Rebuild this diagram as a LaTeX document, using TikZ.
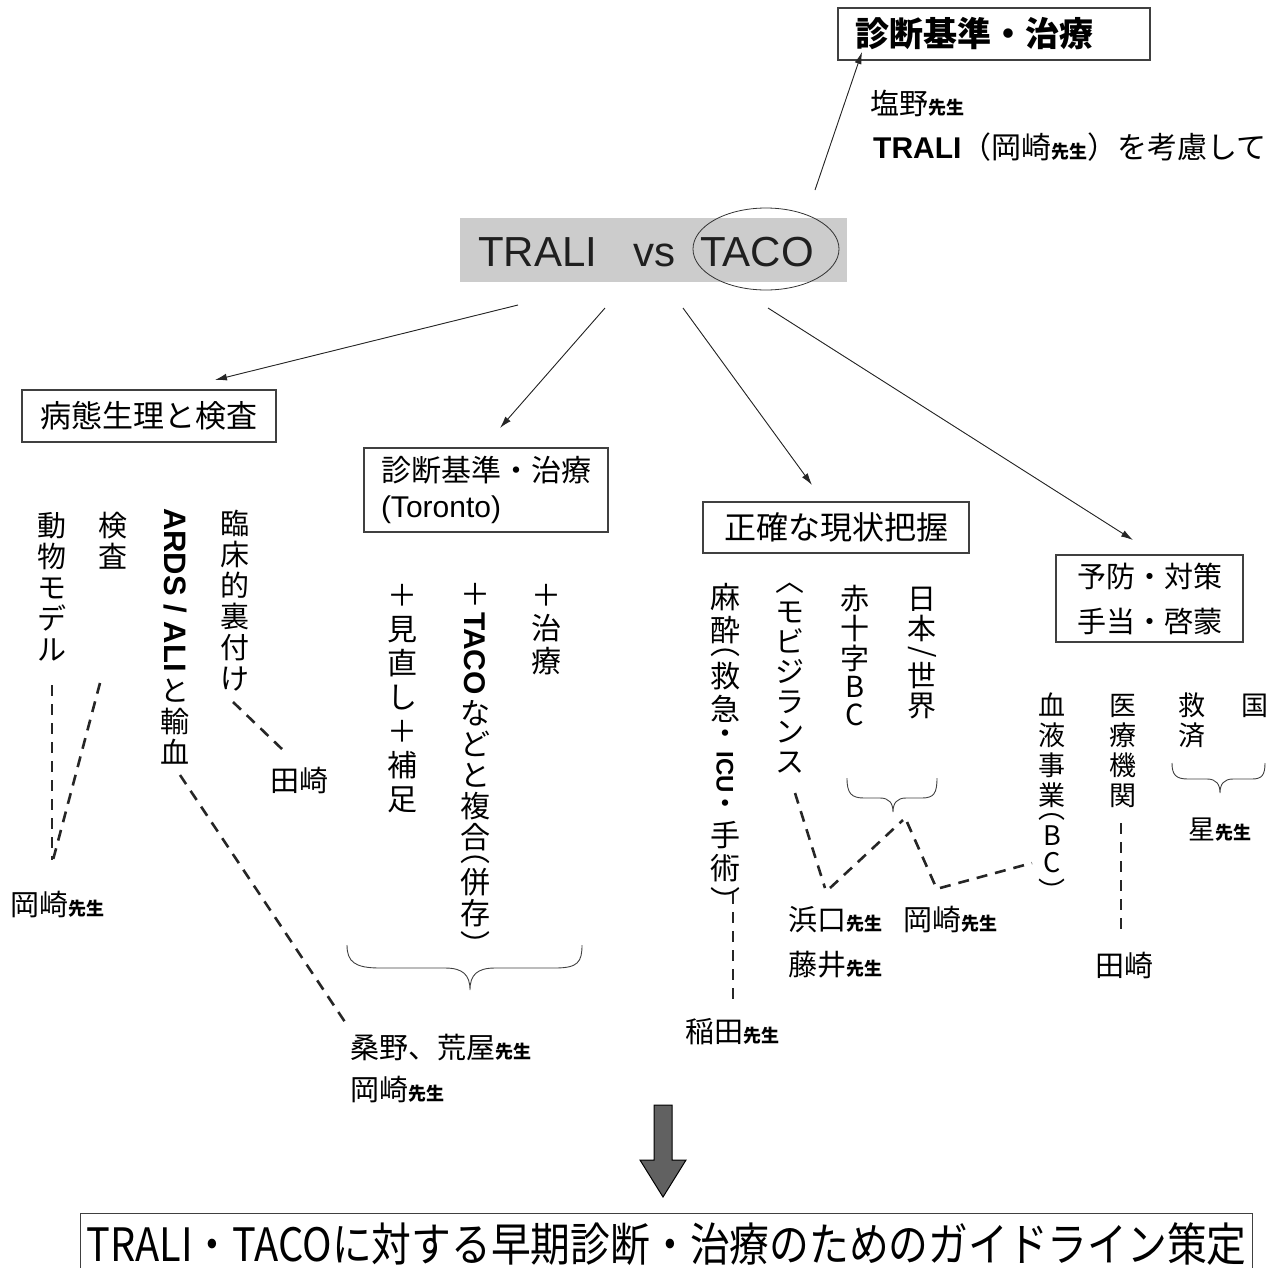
\documentclass[tikz,border=0pt]{standalone}
\usepackage{fontspec}
\setmainfont{Noto Sans CJK JP}
\newfontfamily\arial{Liberation Sans}
\usetikzlibrary{arrows.meta,shapes.geometric}
\newcommand\fsz[1]{\fontsize{#1}{#1}\selectfont}
\newcommand\sen{{\fontsize{18}{18}\selectfont\bfseries 先生}}
\makeatletter
\newif\ifvsmall
\newdimen\vpitch
\newdimen\vgap \vgap=6pt
\newcommand\Hc[1]{\global\vsmalltrue#1}
\newcommand\Rot[1]{\global\vsmalltrue\rotatebox{-90}{#1}}
\newcommand\Dt{\Hc{\vbox to 0.55em{\vss\hbox{・}\vss}}}
\newcommand\vcell[1]{%
  \global\vsmallfalse
  \setbox0=\hbox{#1}%
  \ifvsmall
    \dimen0=\ht0 \advance\dimen0 by \dp0 \advance\dimen0 by \vgap
  \else
    \setbox0=\hbox{\vrule width 0pt height 0.88em depth 0.12em\relax#1}%
    \dimen0=\vpitch
  \fi
  \hbox to \vpitch{\hss\vbox to \dimen0{\vss\box0\vss}\hss}}
\newcommand\vtext[2]{\vpitch=#1\relax\vbox{\offinterlineskip\@tfor\vtok:=#2\do{\vcell{\vtok}}}}
\makeatother
\begin{document}
\begin{tikzpicture}[x=1pt,y=-1pt,
  bx/.style={draw=black!75,line width=1.3pt,inner sep=0pt},
  arr/.style={-{Latex[length=12pt,width=7pt]},line width=0.9pt,draw=black!85,fill=black!70},
  dsh/.style={line width=2.6pt,dash pattern=on 11pt off 8pt,draw=black!85},
  vcol/.style={anchor=north,inner sep=0pt},
  lbl/.style={anchor=west,inner sep=0pt,font=\fsz{29}},
  brc/.style={line width=0.9pt,draw=black!75}]
\useasboundingbox (0,0) rectangle (1283,1267);

% ---- top box and notes
\node[bx,text width=312pt,align=left,minimum height=52pt,font=\fsz{34}\bfseries] (topbox) at (994,34) {\hspace*{17pt}診断基準・治療};
\node[lbl] (shiono) at (870,103) {塩野\sen};
\node[lbl,font=\fsz{30}] (tralinote) at (873,147) {{\arial\bfseries TRALI}（岡崎\sen）を考慮して};

% ---- TRALI vs TACO
\node[fill=black!20,minimum width=387pt,minimum height=64pt,inner sep=0pt] (tvbox) at (653.5,250) {};
\node[anchor=base west,inner sep=0pt,font=\arial\fsz{42},text=black!88] (trali) at (478,266) {TRALI};
\node[anchor=base west,inner sep=0pt,font=\arial\fsz{42},text=black!88] (vs) at (633,266) {vs};
\node[anchor=base west,inner sep=0pt,font=\arial\fsz{42},text=black!88] (taco) at (700,266) {TACO};
\node[ellipse,draw=black!80,line width=0.8pt,minimum width=146pt,minimum height=82pt,inner sep=0pt] (tacoell) at (766,249) {};

% ---- arrows
\coordinate (t0) at (815,190); \coordinate (t1) at (862,52);
\draw[arr] (t0) -- (t1);
\coordinate (a1s) at (518,305); \coordinate (a1e) at (215,380);
\coordinate (a2s) at (605,308); \coordinate (a2e) at (500,428);
\coordinate (a3s) at (683,308); \coordinate (a3e) at (812,485);
\coordinate (a4s) at (768,308); \coordinate (a4e) at (1133,540);
\draw[arr] (a1s) -- (a1e);
\draw[arr] (a2s) -- (a2e);
\draw[arr] (a3s) -- (a3e);
\draw[arr] (a4s) -- (a4e);

% ---- category boxes
\node[bx,minimum width=254pt,minimum height=52pt,font=\fsz{31}] (b1) at (149,416) {病態生理と検査};
\node[bx,minimum width=244pt,minimum height=84pt,font={\fontsize{30}{36}\selectfont},align=left] (b2) at (486,490) {診断基準・治療\\{\arial (Toronto)}};
\node[bx,minimum width=266pt,minimum height=51pt,font=\fsz{32}] (b3) at (836,527.5) {正確な現状把握};
\node[bx,minimum width=187pt,minimum height=87pt,font={\fontsize{29}{45}\selectfont},align=center] (b4) at (1149.5,598.5) {予防・対策\\手当・啓蒙};

% ---- vertical texts, left group
\node[vcol,font=\fsz{29}] (v1) at (52,510) {\vtext{31pt}{動物モデル}};
\node[vcol,font=\fsz{29}] (v2) at (113,510) {\vtext{31pt}{検査}};
\node[vcol,font=\fsz{29}] (v3) at (175,505) {\vtext{31pt}{{\Rot{\arial\bfseries\fsz{31}ARDS / ALI}}と輸血}};
\node[vcol,font=\fsz{29}] (v4) at (235,508) {\vtext{31pt}{臨床的裏付け}};

% ---- middle group
\node[vcol,font=\fsz{30}] (v5) at (546,578) {\vtext{33pt}{＋治療}};
\node[vcol,font=\fsz{30}] (v6) at (475,578) {\vtext{31pt}{＋{\Rot{\arial\bfseries TACO}}などと複合{\Hc{︵}}併存{\Hc{︶}}}};
\node[vcol,font=\fsz{30}] (v7) at (402,578) {\vtext{34pt}{＋見直し＋補足}};

% ---- right-middle group
\node[vcol,font=\fsz{30}] (v8) at (725,580) {\vtext{33pt}{麻酔{\Hc{︵}}救急{\Dt}{\Rot{\arial\bfseries\fsz{24}ICU}}{\Dt}手術{\Hc{︶}}}};
\node[vcol,font=\fsz{29}] (v9) at (790,580) {\vtext{30pt}{{\Hc{︿}}モビジランス}};
\node[vcol,font=\fsz{29}] (v10) at (855,583) {\vtext{30pt}{赤十字{\Hc{B}}{\Hc{C}}}};
\node[vcol,font=\fsz{29}] (v11) at (922,583) {\vtext{30pt}{日本{\Rot{/}}世界}};

% ---- right group
\node[vcol,font=\fsz{27}] (v12) at (1052,690) {\vtext{30pt}{血液事業{\Hc{︵}}{\Hc{B}}{\Hc{C}}{\Hc{︶}}}};
\node[vcol,font=\fsz{27}] (v13) at (1123,690) {\vtext{30pt}{医療機関}};
\node[vcol,font=\fsz{27}] (v14) at (1192,690) {\vtext{30pt}{救済}};
\node[vcol,font=\fsz{27}] (v15) at (1255,690) {\vtext{30pt}{国}};

% ---- braces
\draw[brc] (347,945) .. controls (347,962) and (355,968) .. (380,968) -- (445,968)
  .. controls (463,968) and (470,975) .. (470,990)
  .. controls (470,975) and (477,968) .. (495,968) -- (555,968)
  .. controls (578,968) and (582,962) .. (582,945);
\draw[brc] (847,778) .. controls (847,793) and (851,798) .. (864,798) -- (880,798)
  .. controls (889,798) and (893,803) .. (893,812)
  .. controls (893,803) and (897,798) .. (906,798) -- (922,798)
  .. controls (934,798) and (937,793) .. (937,778);
\draw[brc] (1172,763) .. controls (1172,775) and (1176,779) .. (1188,779) -- (1207,779)
  .. controls (1216,779) and (1220,784) .. (1220,793)
  .. controls (1220,784) and (1224,779) .. (1233,779) -- (1252,779)
  .. controls (1262,779) and (1265,775) .. (1265,763);

% ---- name labels
\node[lbl] (tasakiL) at (270,780) {田崎};
\node[lbl] (okazakiL) at (10,905) {岡崎\sen};
\node[lbl] (kuwano) at (350,1047) {桑野、荒屋\sen};
\node[lbl] (okazakiM) at (350,1090) {岡崎\sen};
\node[lbl] (inada) at (685,1032) {稲田\sen};
\node[lbl] (hamaguchi) at (788,920) {浜口\sen};
\node[lbl] (fujii) at (788,965) {藤井\sen};
\node[lbl] (okazakiR) at (903,920) {岡崎\sen};
\node[lbl] (tasakiR) at (1095,965) {田崎};
\node[lbl,font=\fsz{27}] (hoshi) at (1188,830) {星\sen};

% ---- dashed connectors
\coordinate (d1a) at (52,685);  \coordinate (d1b) at (52,860);
\coordinate (d2a) at (100,683); \coordinate (d2b) at (53,860);
\coordinate (d3a) at (233,702); \coordinate (d3b) at (283,750);
\coordinate (d4a) at (180,775); \coordinate (d4b) at (345,1022);
\coordinate (d5a) at (733,893); \coordinate (d5b) at (733,1003);
\coordinate (d6a) at (795,793); \coordinate (d6b) at (825,888);
\coordinate (d7a) at (830,888); \coordinate (d7b) at (903,820);
\coordinate (d8a) at (907,822); \coordinate (d8b) at (935,885);
\coordinate (d9a) at (940,888); \coordinate (d9b) at (1032,863);
\coordinate (d10a) at (1121,823); \coordinate (d10b) at (1121,932);
\draw[dsh] (d1a) -- (d1b);
\draw[dsh] (d2a) -- (d2b);
\draw[dsh] (d3a) -- (d3b);
\draw[dsh] (d4a) -- (d4b);
\draw[dsh] (d5a) -- (d5b);
\draw[dsh] (d6a) -- (d6b);
\draw[dsh] (d7a) -- (d7b);
\draw[dsh] (d8a) -- (d8b);
\draw[dsh] (d9a) -- (d9b);
\draw[dsh] (d10a) -- (d10b);

% ---- big arrow and conclusion box
\draw[fill=black!62,draw=black,line width=1pt] (654,1105) -- (672,1105) -- (672,1160) -- (686,1160) -- (663,1197) -- (640,1160) -- (654,1160) -- cycle;
\node[bx,minimum width=1172pt,minimum height=60pt,anchor=north west,font=\fsz{46}] (guide) at (80,1213) {\resizebox{1160pt}{\height}{TRALI・TACOに対する早期診断・治療のためのガイドライン策定}};
\end{tikzpicture}
\end{document}
